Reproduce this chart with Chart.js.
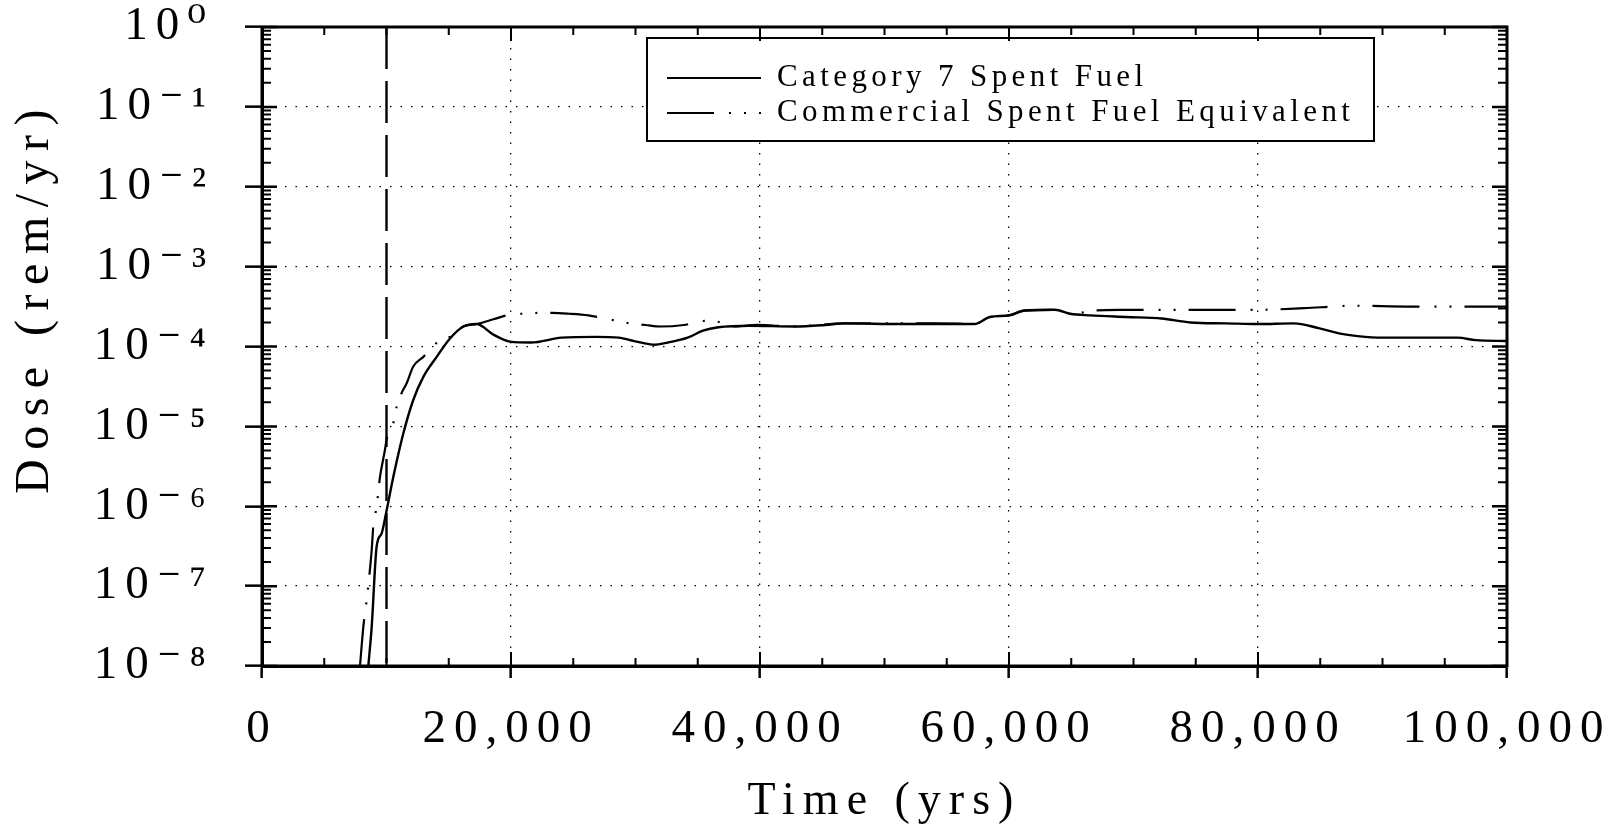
<!DOCTYPE html>
<html>
<head>
<meta charset="utf-8">
<script src="https://cdn.jsdelivr.net/npm/chart.js@4.4.1/dist/chart.umd.min.js"></script>
<style>
html,body{margin:0;padding:0;background:#fff;}
canvas{display:block;}
</style>
</head>
<body>
<canvas id="c" width="1613" height="824"></canvas>
<script>
// ---------------- data ----------------
const seriesLabels = ['Category 7 Spent Fuel', 'Commercial Spent Fuel Equivalent'];

const timeCat7 = [8540, 8810, 9210, 9610, 9960, 10550, 11350, 12150, 12960, 14030, 15100, 16170, 17240,
  18580, 19920, 21600, 24060, 26820, 28660, 29890, 31580, 32350, 34190, 35420, 36650, 39110, 42800,
  45250, 46790, 51400, 54160, 57230, 58460, 60000, 61230, 63690, 64910, 66530, 69400, 72260, 74560,
  77420, 80000, 82870, 84870, 86590, 88000, 90030, 92320, 96040, 97480, 100000];
const doseCat7 = [1.0e-8, 3.09e-8, 3.16e-7, 4.57e-7, 8.13e-7, 2.34e-6, 8.13e-6, 2.14e-5, 4.17e-5, 7.41e-5,
  1.26e-4, 1.78e-4, 1.91e-4, 1.41e-4, 1.15e-4, 1.12e-4, 1.29e-4, 1.32e-4, 1.29e-4, 1.17e-4, 1.05e-4,
  1.10e-4, 1.29e-4, 1.58e-4, 1.74e-4, 1.82e-4, 1.78e-4, 1.86e-4, 1.95e-4, 1.91e-4, 1.91e-4, 1.91e-4,
  2.34e-4, 2.45e-4, 2.82e-4, 2.88e-4, 2.57e-4, 2.45e-4, 2.34e-4, 2.24e-4, 2.00e-4, 1.95e-4, 1.91e-4,
  1.95e-4, 1.70e-4, 1.45e-4, 1.35e-4, 1.29e-4, 1.29e-4, 1.29e-4, 1.20e-4, 1.17e-4];

const timeComm = [7870, 8140, 8410, 8810, 8940, 9210, 9480, 9880, 10010, 10550, 10820, 11220, 11620, 12150,
  12960, 14160, 15100, 16170, 17240, 18580, 19920, 20830, 22210, 23290, 24670, 26210, 28200, 29580,
  30810, 32040, 33890, 35570, 36960, 38030, 39720, 42800, 46790, 51400, 54160, 57230, 58460, 60000,
  61230, 63690, 65100, 66800, 68830, 72550, 76280, 80000, 83720, 86020, 87450, 92320, 100000];
const doseComm = [1.0e-8, 3.09e-8, 6.76e-8, 2.82e-7, 5.62e-7, 1.0e-6, 2.34e-6, 5.13e-6, 6.92e-6, 1.10e-5,
  1.78e-5, 2.63e-5, 3.47e-5, 5.62e-5, 7.41e-5, 1.15e-4, 1.32e-4, 1.78e-4, 1.91e-4, 2.19e-4, 2.51e-4,
  2.57e-4, 2.63e-4, 2.63e-4, 2.57e-4, 2.45e-4, 2.14e-4, 1.95e-4, 1.86e-4, 1.78e-4, 1.86e-4, 2.09e-4,
  2.00e-4, 1.78e-4, 1.86e-4, 1.78e-4, 1.95e-4, 1.95e-4, 1.95e-4, 1.91e-4, 2.34e-4, 2.45e-4, 2.82e-4,
  2.88e-4, 2.57e-4, 2.82e-4, 2.88e-4, 2.88e-4, 2.88e-4, 2.88e-4, 3.02e-4, 3.16e-4, 3.24e-4, 3.16e-4, 3.16e-4];

const markerTime = [10000, 10000];
const markerDose = [1, 1e-8];

const xTickValues = [0, 20000, 40000, 60000, 80000, 100000];
const xTickLabels = ['0', '20,000', '40,000', '60,000', '80,000', '100,000'];
const yTickValues = [1e-8, 1e-7, 1e-6, 1e-5, 1e-4, 1e-3, 1e-2, 1e-1, 1];
const yTickLabels = ['10\u207B\u2078', '10\u207B\u2077', '10\u207B\u2076', '10\u207B\u2075', '10\u207B\u2074',
  '10\u207B\u00B3', '10\u207B\u00B2', '10\u207B\u00B9', '10\u2070'];
const xTitle = 'Time (yrs)';
const yTitle = 'Dose (rem/yr)';

// ---------------- chart ----------------
const FAMILY = '"Liberation Serif", "Times New Roman", "DejaVu Serif", serif';
const commDash = [47, 15, 2, 13, 2, 13];

function pts(xs, ys) { return xs.map((x, i) => ({x: x, y: ys[i]})); }

const spacingPlugin = {
  id: 'spacing',
  beforeUpdate(chart) { chart.ctx.letterSpacing = '8px'; },
  beforeLayout(chart) { chart.ctx.letterSpacing = '8px'; },
  beforeDraw(chart) { chart.ctx.letterSpacing = '8px'; }
};

const framePlugin = {
  id: 'frame',
  afterDraw(chart) {
    const ctx = chart.ctx;
    const a = chart.chartArea;
    const xs = chart.scales.x, ys = chart.scales.y;
    ctx.save();
    ctx.letterSpacing = '0px';
    ctx.strokeStyle = '#000';
    ctx.setLineDash([]);
    // inward x ticks (top and bottom)
    ctx.lineWidth = 2;
    for (let v = 5000; v < 100000; v += 5000) {
      const px = xs.getPixelForValue(v);
      const len = (v % 20000 === 0) ? 14 : 8;
      ctx.beginPath();
      ctx.moveTo(px, a.bottom); ctx.lineTo(px, a.bottom - len);
      ctx.moveTo(px, a.top); ctx.lineTo(px, a.top + len);
      ctx.stroke();
    }
    // inward y ticks (left and right)
    for (let n = -8; n <= 0; n++) {
      for (let k = 1; k <= 9; k++) {
        const v = k * Math.pow(10, n);
        if (v > 1) break;
        const py = ys.getPixelForValue(v);
        const len = k === 1 ? 15 : 9;
        ctx.lineWidth = k === 1 ? 2.5 : 2;
        ctx.beginPath();
        ctx.moveTo(a.left, py); ctx.lineTo(a.left + len, py);
        ctx.moveTo(a.right, py); ctx.lineTo(a.right - len, py);
        ctx.stroke();
      }
    }
    // frame
    ctx.lineWidth = 3;
    ctx.strokeRect(a.left, a.top, a.right - a.left, a.bottom - a.top);

    // y axis title
    ctx.translate(35, 297);
    ctx.rotate(-Math.PI / 2);
    ctx.font = '48px ' + FAMILY;
    ctx.letterSpacing = '9.5px';
    ctx.fillStyle = '#000';
    ctx.textAlign = 'center';
    ctx.textBaseline = 'middle';
    ctx.fillText(yTitle, 0, 0);
    ctx.restore();
  }
};

const legendPlugin = {
  id: 'boxLegend',
  afterDatasetsDraw(chart) {
    const ctx = chart.ctx;
    const x0 = 647, y0 = 38, w = 727, h = 103;
    ctx.save();
    ctx.setLineDash([]);
    ctx.fillStyle = '#fff';
    ctx.fillRect(x0, y0, w, h);
    ctx.strokeStyle = '#000';
    ctx.lineWidth = 2;
    ctx.strokeRect(x0, y0, w, h);
    const rows = [78, 113];
    const dashes = [[], commDash];
    ctx.font = '31px ' + FAMILY;
    ctx.letterSpacing = '4.4px';
    ctx.textAlign = 'left';
    ctx.textBaseline = 'middle';
    ctx.fillStyle = '#000';
    for (let i = 0; i < 2; i++) {
      ctx.lineWidth = 2.2;
      ctx.setLineDash(dashes[i]);
      ctx.beginPath();
      ctx.moveTo(667, rows[i]); ctx.lineTo(761, rows[i]);
      ctx.stroke();
      ctx.setLineDash([]);
      ctx.fillText(seriesLabels[i], 777, rows[i]);
    }
    ctx.restore();
  }
};

new Chart(document.getElementById('c'), {
  type: 'line',
  data: {
    datasets: [
      {
        label: seriesLabels[0],
        data: pts(timeCat7, doseCat7),
        borderColor: '#000', borderWidth: 2.4, pointRadius: 0,
        cubicInterpolationMode: 'monotone', fill: false
      },
      {
        label: seriesLabels[1],
        data: pts(timeComm, doseComm),
        borderColor: '#000', borderWidth: 2.2, pointRadius: 0,
        borderDash: commDash,
        cubicInterpolationMode: 'monotone', fill: false
      },
      {
        label: 'marker',
        data: pts(markerTime, markerDose),
        borderColor: '#000', borderWidth: 2.4, pointRadius: 0,
        borderDash: [42, 12], fill: false
      }
    ]
  },
  options: {
    responsive: false,
    devicePixelRatio: 1,
    animation: false,
    layout: { padding: { top: 27, right: 106, bottom: 0, left: 0 } },
    plugins: { legend: { display: false }, tooltip: { enabled: false } },
    scales: {
      x: {
        type: 'linear', min: 0, max: 100000,
        afterBuildTicks: s => { s.ticks = xTickValues.map(v => ({ value: v })); },
        afterFit: s => { s.height = 158; s.paddingLeft = 0; s.paddingRight = 0; },
        ticks: {
          callback: (v, i) => xTickLabels[i],
          font: { family: FAMILY, size: 47, lineHeight: 1.2 },
          color: '#000', padding: 23, maxRotation: 0, autoSkip: false
        },
        grid: {
          color: '#000', lineWidth: 1.3, drawTicks: true, tickLength: 12,
          tickColor: '#000', tickWidth: 2.5, tickBorderDash: []
        },
        border: { display: true, color: '#000', width: 3, dash: [1.5, 9] },
        title: {
          display: true, text: xTitle, color: '#000', padding: { top: 0, bottom: -6 },
          font: { family: FAMILY, size: 46, lineHeight: 1.2 }
        }
      },
      y: {
        type: 'logarithmic', min: 1e-8, max: 1,
        afterBuildTicks: s => { s.ticks = yTickValues.map(v => ({ value: v, major: true })); },
        afterFit: s => { s.width = 262; s.paddingTop = 0; s.paddingBottom = 0; },
        ticks: {
          callback: (v, i) => yTickLabels[i],
          font: { family: FAMILY, size: 47, lineHeight: 1.0 },
          color: '#000', padding: 31, autoSkip: false
        },
        grid: {
          color: '#000', lineWidth: 1.3, drawTicks: true, tickLength: 17,
          tickColor: '#000', tickWidth: 2.5, tickBorderDash: []
        },
        border: { display: true, color: '#000', width: 3, dash: [1.5, 9] }
      }
    }
  },
  plugins: [spacingPlugin, legendPlugin, framePlugin]
});
</script>
</body>
</html>
